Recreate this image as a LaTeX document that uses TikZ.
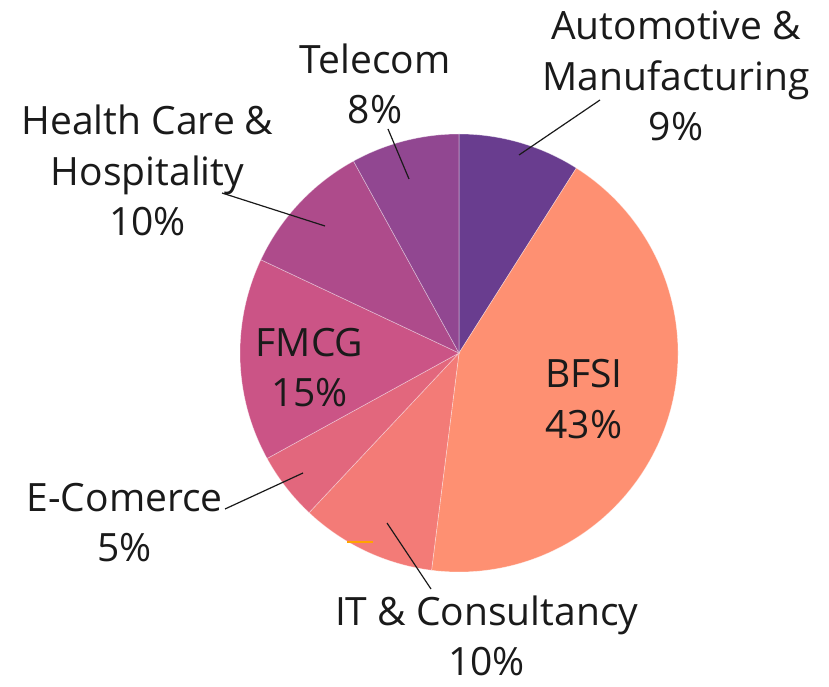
\documentclass[tikz,border=0pt]{standalone}
\usepackage{fontspec}
\setmainfont{Open Sans}
\usepackage{xcolor}
\definecolor{autoc}{HTML}{693D8F}
\definecolor{bfsic}{HTML}{FE9072}
\definecolor{itc}{HTML}{F37B77}
\definecolor{ecomc}{HTML}{E2677D}
\definecolor{fmcgc}{HTML}{CB5486}
\definecolor{healthc}{HTML}{AE4B8B}
\definecolor{telec}{HTML}{914791}
\definecolor{txt}{HTML}{1A1A1A}
\definecolor{glitch}{HTML}{FFA500}

\begin{document}
\begin{tikzpicture}[x=1pt,y=1pt,
	slice/.style={draw=white, draw opacity=0.45, line width=0.6pt},
	lbl/.style={align=center, inner sep=0pt, text=txt, font=\fontsize{39}{50.5}\selectfont},
	leader/.style={draw=txt, line width=1.2pt}]
	\useasboundingbox (0,0) rectangle (829,686);
	\coordinate (c) at (459,333);
	\foreach \a/\b/\col in {90/57.6/autoc, 57.6/-97.2/bfsic, -97.2/-133.2/itc, -133.2/-151.2/ecomc,
		-151.2/-205.2/fmcgc, 154.8/118.8/healthc, 118.8/90/telec}
		\fill[\col, slice] (c) -- ++(\a:219) arc[start angle=\a, end angle=\b, radius=219] -- cycle;
	\draw[glitch, line width=1.5pt] (347,144) -- (373,144);

	\node[lbl] (auto) at (676,610) {Automotive \&\\Manufacturing\\9\%};
	\node[lbl] (tele) at (375,602) {Telecom\\8\%};
	\node[lbl] (health) at (147.5,515.5) {Health Care \&\\Hospitality\\10\%};
	\node[lbl] (fmcg) at (309.5,318.5) {FMCG\\15\%};
	\node[lbl] (bfsi) at (584,287) {BFSI\\43\%};
	\node[lbl] (ecom) at (124.7,163.5) {E-Comerce\\5\%};
	\node[lbl] (it) at (486.7,50) {IT \& Consultancy\\10\%};

	\coordinate (autoin) at (519,531);
	\coordinate (autoout) at (600,586);
	\coordinate (telein) at (409,507);
	\coordinate (teleout) at (388,557);
	\coordinate (healthin) at (325,460);
	\coordinate (healthout) at (222,493);
	\coordinate (ecomin) at (303,213);
	\coordinate (ecomout) at (225,177);
	\coordinate (itin) at (387,163);
	\coordinate (itout) at (431,97);
	\foreach \s in {auto,tele,health,ecom,it}
		\draw[leader] (\s in) -- (\s out);
\end{tikzpicture}
\end{document}
